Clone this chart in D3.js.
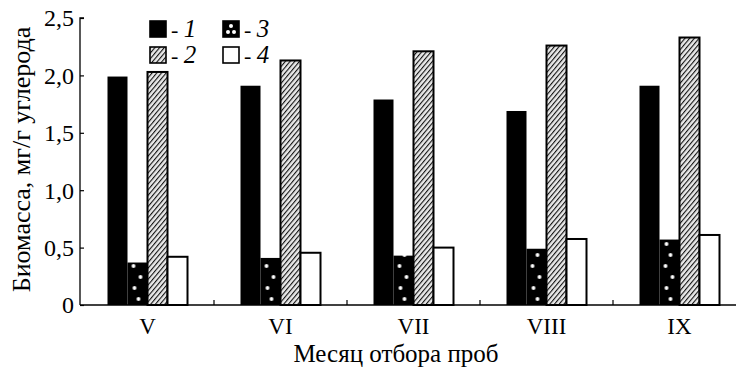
<!DOCTYPE html>
<html>
<head>
<meta charset="utf-8">
<script src="https://cdn.jsdelivr.net/npm/d3@7"></script>
<style>
  body { margin: 0; background: #fff; }
  text { font-family: "Liberation Serif", "Times New Roman", serif; fill: #000; }
</style>
</head>
<body>
<div id="chart"></div>
<script>
// data
const months = ["V", "VI", "VII", "VIII", "IX"];
const series1 = [1.99, 1.91, 1.79, 1.69, 1.91];
const series2 = [2.03, 2.13, 2.21, 2.26, 2.33];
const series3 = [0.37, 0.41, 0.43, 0.49, 0.57];
const series4 = [0.42, 0.455, 0.50, 0.575, 0.61];
const yTicks = [0, 0.5, 1.0, 1.5, 2.0, 2.5];
const barOrder = ["1", "3", "2", "4"];
const seriesValues = {"1": series1, "2": series2, "3": series3, "4": series4};

const serif = "Liberation Serif, Times New Roman, serif";
const width = 736, height = 369;
const margin = {left: 80, top: 18, bottom: 64};

const svg = d3.select("#chart")
  .append("svg")
    .attr("width", width)
    .attr("height", height)
    .attr("font-family", serif);

const defs = svg.append("defs");

// hatching for series 2
const hatch = defs.append("pattern")
  .attr("id", "hatch")
  .attr("patternUnits", "userSpaceOnUse")
  .attr("width", 3.6)
  .attr("height", 3.6)
  .attr("patternTransform", "rotate(40)");
hatch.append("rect").attr("width", 3.6).attr("height", 3.6).attr("fill", "#e8e8e8");
hatch.append("line")
  .attr("x1", 0).attr("y1", 0).attr("x2", 0).attr("y2", 3.6)
  .attr("stroke", "#111").attr("stroke-width", 2.2);

// scales
const y = d3.scaleLinear()
  .domain([0, 2.5])
  .range([height - margin.bottom, margin.top]);

const x0 = d3.scaleBand()
  .domain(months)
  .range([margin.left + 1, margin.left + 1 + 133 * months.length])
  .padding(0);

const groupW = 80;
const x1 = d3.scaleBand()
  .domain(barOrder)
  .range([(x0.bandwidth() - groupW) / 2, (x0.bandwidth() + groupW) / 2]);

// dotted black for series 3 (pattern is in the group's local space)
const dotH = 44;
const dots = defs.append("pattern")
  .attr("id", "dots")
  .attr("patternUnits", "userSpaceOnUse")
  .attr("x", x1("3"))
  .attr("y", y(0))
  .attr("width", x0.step())
  .attr("height", dotH);
dots.append("rect").attr("width", x0.step()).attr("height", dotH).attr("fill", "#000");
[[6, 5], [13, 16], [7, 27], [11, 38]].forEach(p => {
  dots.append("circle").attr("cx", p[0]).attr("cy", p[1]).attr("r", 1.9).attr("fill", "#fff");
});

const fills = {"1": "#000", "2": "url(#hatch)", "3": "url(#dots)", "4": "#fff"};

// bars
svg.append("g")
  .selectAll("g")
  .data(months)
  .join("g")
    .attr("transform", d => `translate(${x0(d)},0)`)
  .selectAll("rect")
  .data((d, i) => barOrder.map(k => ({key: k, value: seriesValues[k][i]})))
  .join("rect")
    .attr("x", d => x1(d.key))
    .attr("y", d => y(d.value))
    .attr("width", x1.bandwidth())
    .attr("height", d => y(0) - y(d.value))
    .attr("fill", d => fills[d.key])
    .attr("stroke", d => (d.key === "2" || d.key === "4") ? "#000" : "none")
    .attr("stroke-width", 2);

// y axis
const yAxis = svg.append("g")
  .attr("transform", `translate(${margin.left},0)`)
  .call(d3.axisRight(y).tickValues(yTicks).tickSize(4).tickFormat(""));
yAxis.select(".domain").attr("stroke-width", 1.3).attr("d", `M4,${y(2.5)}H0V${y(0)}`);
yAxis.selectAll(".tick line").attr("stroke-width", 1.2);

svg.append("g")
  .selectAll("text")
  .data(yTicks)
  .join("text")
    .attr("x", margin.left - 6)
    .attr("y", d => y(d))
    .attr("dy", "0.35em")
    .attr("text-anchor", "end")
    .attr("font-family", serif)
    .attr("font-size", 24)
    .text(d => d === 0 ? "0" : d3.format(".1f")(d).replace(".", ","));

// x axis
const xAxis = svg.append("g")
  .attr("transform", `translate(0,${y(0)})`)
  .call(d3.axisBottom(x0).tickSize(0).tickPadding(13));
xAxis.select(".domain").attr("stroke-width", 1.6).attr("d", `M${margin.left},0H${width}`);
xAxis.selectAll(".tick text")
  .attr("font-family", serif)
  .attr("font-size", 23);

// tick marks between groups
svg.append("g")
  .selectAll("line")
  .data(months.slice(1))
  .join("line")
    .attr("x1", d => x0(d))
    .attr("x2", d => x0(d))
    .attr("y1", y(0))
    .attr("y2", y(0) - 5)
    .attr("stroke", "#000")
    .attr("stroke-width", 1.2);

// axis titles
svg.append("text")
  .attr("x", 396)
  .attr("y", 362)
  .attr("text-anchor", "middle")
  .attr("font-family", serif)
  .attr("font-size", 25)
  .text("Месяц отбора проб");

svg.append("text")
  .attr("transform", `translate(30,${(y(0) + y(2.5)) / 2 - 2}) rotate(-90)`)
  .attr("text-anchor", "middle")
  .attr("font-family", serif)
  .attr("font-size", 26)
  .text("Биомасса, мг/г углерода");

// legend
const legendItems = [
  {key: "1", x: 150, y: 21},
  {key: "2", x: 150, y: 47},
  {key: "3", x: 223, y: 21},
  {key: "4", x: 223, y: 47}
];
const legend = svg.append("g")
  .selectAll("g")
  .data(legendItems)
  .join("g")
    .attr("transform", d => `translate(${d.x},${d.y})`);

legend.append("rect")
  .attr("width", 16)
  .attr("height", 16)
  .attr("fill", d => d.key === "3" ? "#000" : fills[d.key])
  .attr("stroke", "#000")
  .attr("stroke-width", 1.6);

// small dots on the legend key of series 3
legend.filter(d => d.key === "3")
  .selectAll("circle")
  .data([[5, 11], [11, 11], [8, 5]])
  .join("circle")
    .attr("cx", p => p[0])
    .attr("cy", p => p[1])
    .attr("r", 2)
    .attr("fill", "#fff");

const lt = legend.append("text")
  .attr("x", 21)
  .attr("y", 16)
  .attr("font-family", serif)
  .attr("font-size", 22);
lt.append("tspan").text("- ");
lt.append("tspan").attr("font-style", "italic").attr("font-size", 25).text(d => d.key);
</script>
</body>
</html>
